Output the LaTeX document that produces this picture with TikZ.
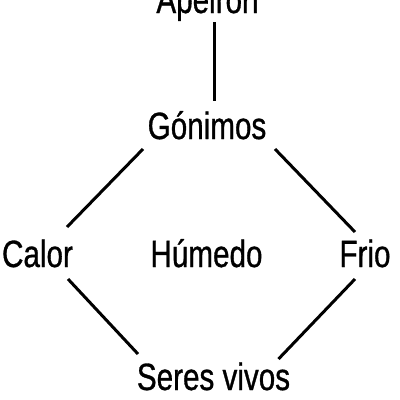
\documentclass[tikz,border=0pt]{standalone}
\usepackage{fontspec}
\setmainfont{Liberation Sans}[FakeStretch=0.78,FakeBold=0.8]
\begin{document}
\begin{tikzpicture}[x=1pt,y=-1pt,
  lbl/.style={anchor=base,inner sep=0pt,font=\fontsize{38}{40}\selectfont},
  link/.style={line width=3pt,black}]
\useasboundingbox (0,0) rectangle (400,400);
\node[lbl] (ape) at (207.5,13) {Apeiron};
\node[lbl] (gon) at (207,139) {Gónimos};
\node[lbl] (cal) at (37.5,267) {Calor};
\node[lbl] (hum) at (206.5,267) {Húmedo};
\node[lbl] (fri) at (365,267) {Frio};
\node[lbl] (ser) at (213.5,390) {Seres vivos};
\draw[link] ([xshift=6.5pt,yshift=-9pt]ape.base) -- ([xshift=7pt,yshift=38pt]gon.base);
\draw[link] ([xshift=-64pt,yshift=-10pt]gon.base) -- ([xshift=29.5pt,yshift=40pt]cal.base);
\draw[link] ([xshift=68pt,yshift=-10pt]gon.base) -- ([xshift=-10pt,yshift=35pt]fri.base);
\draw[link] ([xshift=30.5pt,yshift=-12pt]cal.base) -- ([xshift=-75.5pt,yshift=36pt]ser.base);
\draw[link] ([xshift=-10pt,yshift=-12pt]fri.base) -- ([xshift=65pt,yshift=31pt]ser.base);
\end{tikzpicture}
\end{document}
